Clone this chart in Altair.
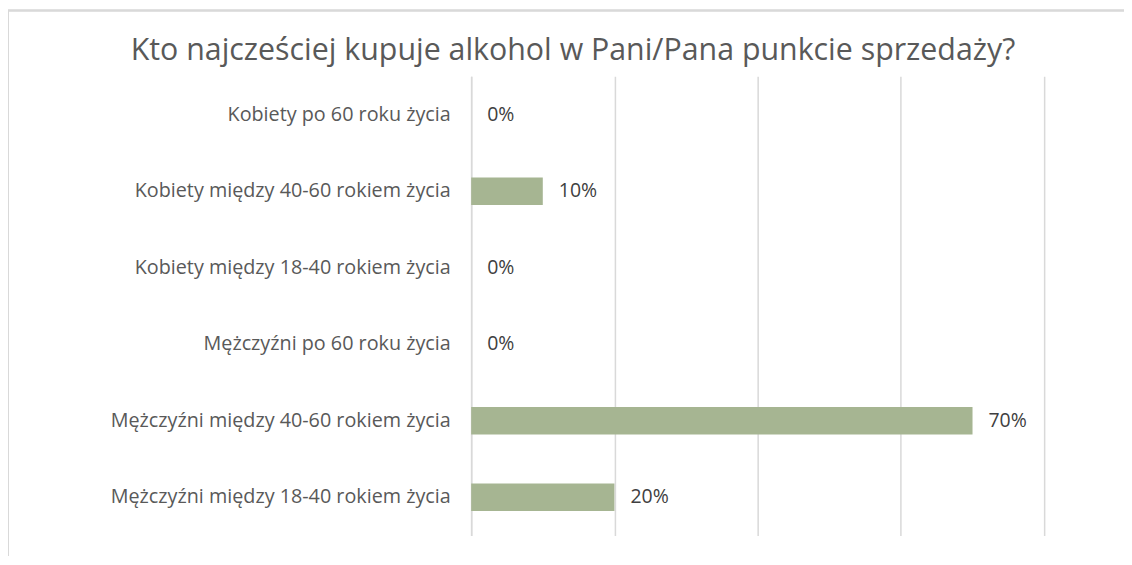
import altair as alt
import pandas as pd

categories = [
    "Kobiety po 60 roku życia",
    "Kobiety między 40-60 rokiem życia",
    "Kobiety między 18-40 rokiem życia",
    "Mężczyźni po 60 roku życia",
    "Mężczyźni między 40-60 rokiem życia",
    "Mężczyźni między 18-40 rokiem życia",
]
values = [0.0, 0.10, 0.0, 0.0, 0.70, 0.20]
x_ticks = [0.0, 0.2, 0.4, 0.6, 0.8]
title_text = ["Kto najcześciej kupuje alkohol w Pani/Pana punkcie sprzedaży?"]

df = pd.DataFrame({"kategoria": categories, "udzial": values})
df_title = pd.DataFrame({"t": title_text})

FONT = "Open Sans"
GRAY = "#595959"

x_enc = alt.X(
    "udzial:Q",
    scale=alt.Scale(domain=[0, 0.8], nice=False),
    axis=alt.Axis(values=x_ticks, labels=False, ticks=False, domain=False,
                  title=None, gridColor="#D9D9D9", gridWidth=1.5),
)
y_enc = alt.Y(
    "kategoria:N",
    sort=categories,
    scale=alt.Scale(paddingInner=0.64, paddingOuter=0.32),
    axis=alt.Axis(title=None, ticks=False, domain=True, domainColor="#D9D9D9",
                  domainWidth=1.5, labelFont=FONT, labelFontSize=19.8,
                  labelColor=GRAY, labelPadding=21, labelLimit=500),
)

bars = alt.Chart(df).mark_bar(color="#A6B592").encode(x=x_enc, y=y_enc)
labels = alt.Chart(df).mark_text(
    align="left", baseline="middle", dx=16, font=FONT, fontSize=19.5, color="#404040"
).encode(
    x="udzial:Q", y=alt.Y("kategoria:N", sort=categories),
    text=alt.Text("udzial:Q", format=".0%"),
)
frame = alt.Chart(df).mark_rect(
    fill=None, stroke="#D9D9D9", strokeWidth=1.5, clip=False
).encode(
    x=alt.value(-464), x2=alt.value(700), y=alt.value(-66), y2=alt.value(600)
)
title = alt.Chart(df_title).mark_text(
    align="center", baseline="alphabetic", font=FONT, fontSize=30.4, color=GRAY,
    clip=False,
).encode(text="t:N", x=alt.value(102), y=alt.value(-16))

chart = (
    alt.layer(frame, bars, labels, title)
    .properties(
        width=574, height=460,
        padding={"left": 464, "top": 68, "right": 80, "bottom": 20},
        autosize=alt.AutoSizeParams(type="none"),
    )
    .configure_view(stroke=None)
)

chart.save("out.html", embed_options={"renderer": "svg", "actions": False})
